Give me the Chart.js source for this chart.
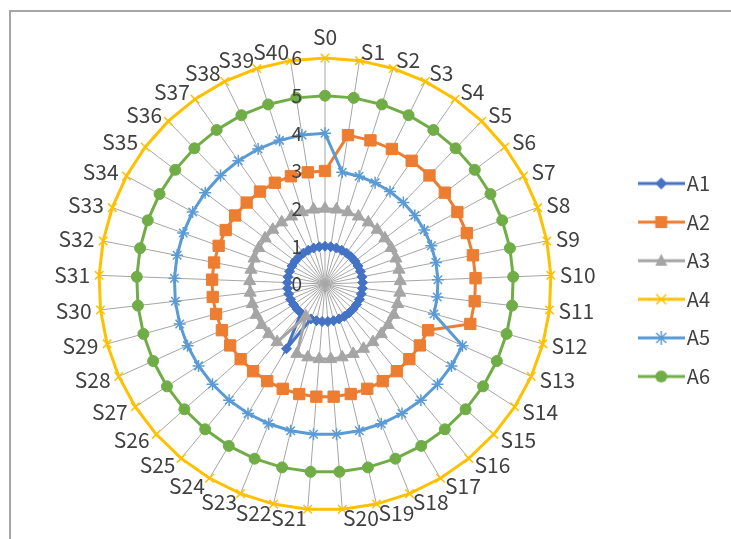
<!DOCTYPE html>
<html>
<head>
<meta charset="utf-8">
<script src="https://cdn.jsdelivr.net/npm/chart.js@4.4.0/dist/chart.umd.min.js"></script>
<style>
body { margin: 0; background: #fff; }
#wrap { position: relative; width: 731px; height: 539px; overflow: hidden; }
#frame { position: absolute; left: 9px; top: 10px; width: 760px; height: 560px; border: 2px solid #a6a6a6; box-sizing: border-box; }
#myChart { position: absolute; left: 0; top: 0; }
</style>
</head>
<body>
<div id="wrap">
  <div id="frame"></div>
  <canvas id="myChart" width="731" height="539"></canvas>
</div>
<script>
var categories = ['S0','S1','S2','S3','S4','S5','S6','S7','S8','S9','S10','S11','S12','S13','S14','S15','S16','S17','S18','S19','S20',
                  'S21','S22','S23','S24','S25','S26','S27','S28','S29','S30','S31','S32','S33','S34','S35','S36','S37','S38','S39','S40'];

var a1 = [1,1,1,1,1,1,1,1,1,1, 1,1,1,1,1,1,1,1,1,1, 1,1,1,1,2,1,1,1,1,1, 1,1,1,1,1,1,1,1,1,1, 1];
var a2 = [3,4,4,4,4,4,4,4,4,4, 4,4,4,3,3,3,3,3,3,3, 3,3,3,3,3,3,3,3,3,3, 3,3,3,3,3,3,3,3,3,3, 3];
var a3 = [2,2,2,2,2,2,2,2,2,2, 2,2,2,2,2,2,2,2,2,2, 2,2,2,2,1,2,2,2,2,2, 2,2,2,2,2,2,2,2,2,2, 2];
var a4 = [6,6,6,6,6,6,6,6,6,6, 6,6,6,6,6,6,6,6,6,6, 6,6,6,6,6,6,6,6,6,6, 6,6,6,6,6,6,6,6,6,6, 6];
var a5 = [4,3,3,3,3,3,3,3,3,3, 3,3,3,4,4,4,4,4,4,4, 4,4,4,4,4,4,4,4,4,4, 4,4,4,4,4,4,4,4,4,4, 4];
var a6 = [5,5,5,5,5,5,5,5,5,5, 5,5,5,5,5,5,5,5,5,5, 5,5,5,5,5,5,5,5,5,5, 5,5,5,5,5,5,5,5,5,5, 5];

var seriesNames = ['A1','A2','A3','A4','A5','A6'];
var tickLabels = ['0','1','2','3','4','5','6'];

var colors = ['#4472C4','#ED7D31','#A5A5A5','#FFC000','#5B9BD5','#70AD47'];
var styles = ['rectRot','rect','triangle','crossRot','star','circle'];
var radii = [5, 8, 7, 6, 6, 5.5];

var textColor = '#404040';
var fontName = '"Noto Sans CJK SC", "DejaVu Sans", sans-serif';

// small legend picture: line with the marker in the middle
function legendIcon(color, style) {
    var c = document.createElement('canvas');
    c.width = 47; c.height = 16;
    var g = c.getContext('2d');
    g.strokeStyle = color;
    g.fillStyle = color;
    g.lineWidth = 3;
    g.beginPath(); g.moveTo(0, 8); g.lineTo(47, 8); g.stroke();
    g.lineWidth = 1.5;
    var x = 23.5, y = 8;
    g.beginPath();
    if (style == 'rectRot') {
        g.moveTo(x, y - 6); g.lineTo(x + 6, y); g.lineTo(x, y + 6); g.lineTo(x - 6, y); g.closePath(); g.fill();
    } else if (style == 'rect') {
        g.fillRect(x - 6, y - 6, 12, 12);
    } else if (style == 'triangle') {
        g.moveTo(x, y - 7); g.lineTo(x + 6, y + 5); g.lineTo(x - 6, y + 5); g.closePath(); g.fill();
    } else if (style == 'crossRot') {
        g.moveTo(x - 5, y - 5); g.lineTo(x + 5, y + 5); g.moveTo(x + 5, y - 5); g.lineTo(x - 5, y + 5); g.stroke();
    } else if (style == 'star') {
        g.moveTo(x - 5, y - 5); g.lineTo(x + 5, y + 5); g.moveTo(x + 5, y - 5); g.lineTo(x - 5, y + 5);
        g.moveTo(x, y - 7); g.lineTo(x, y + 7); g.stroke();
    } else {
        g.arc(x, y, 6, 0, Math.PI * 2); g.fill();
    }
    return c;
}

var icons = colors.map(function (c, i) { return legendIcon(c, styles[i]); });

// value labels left of the S0 spoke, category labels round the outside (Excel style)
var radarText = {
    id: 'radarText',
    afterLayout: function (chart) {
        // legend sits a little higher than the plot centre
        chart.legend.top -= 4;
        chart.legend.bottom -= 4;
    },
    afterDatasetsDraw: function (chart) {
        var r = chart.scales.r;
        var ctx = chart.ctx;
        ctx.save();
        ctx.fillStyle = textColor;
        ctx.font = '19px ' + fontName;
        ctx.textAlign = 'right';
        ctx.textBaseline = 'middle';
        tickLabels.forEach(function (t) {
            ctx.fillText(t, r.xCenter - 23, r.yCenter - r.getDistanceFromCenterForValue(Number(t)));
        });

        ctx.font = '21px ' + fontName;
        categories.forEach(function (lab, i) {
            var a = r.getIndexAngle(i);
            var s = Math.sin(a), c = Math.cos(a);
            var p = r.getPointPosition(i, r.drawingArea);
            var x = p.x + 9 * s;
            var y = p.y - 9 * c;
            if (Math.abs(s) < 0.01) {
                ctx.textAlign = 'center';
                y -= 12;
            } else {
                ctx.textAlign = s > 0 ? 'left' : 'right';
            }
            ctx.fillText(lab, x, y);
        });
        ctx.restore();
    }
};

var seriesData = [a1, a2, a3, a4, a5, a6];
var datasets = seriesData.map(function (d, i) {
    return {
        label: seriesNames[i],
        data: d,
        borderColor: colors[i],
        backgroundColor: colors[i],
        pointBackgroundColor: colors[i],
        pointBorderColor: colors[i],
        pointStyle: styles[i],
        pointRadius: radii[i],
        pointBorderWidth: (styles[i] == 'crossRot' || styles[i] == 'star') ? 1.5 : 1,
        borderWidth: 3,
        fill: false,
        tension: 0,
        order: 6 - i
    };
});

var myChart = new Chart(document.getElementById('myChart'), {
    type: 'radar',
    data: { labels: categories, datasets: datasets },
    plugins: [radarText],
    options: {
        responsive: false,
        animation: false,
        layout: { padding: { left: 24.5, right: 11, top: 58, bottom: 29 } },
        scales: {
            r: {
                min: 0,
                max: 6,
                ticks: { display: false, stepSize: 1 },
                grid: { display: false },
                angleLines: { display: true, color: '#a6a6a6', lineWidth: 1 },
                pointLabels: { display: false }
            }
        },
        plugins: {
            tooltip: { enabled: false },
            legend: {
                position: 'right',
                labels: {
                    usePointStyle: true,
                    pointStyleWidth: 31,
                    boxHeight: 16,
                    padding: 18.6,
                    color: textColor,
                    font: { family: fontName, size: 20 },
                    generateLabels: function (chart) {
                        return chart.data.datasets.map(function (ds, i) {
                            return {
                                text: ds.label,
                                pointStyle: icons[i],
                                datasetIndex: i,
                                hidden: false,
                                fontColor: textColor,
                                lineWidth: 0,
                                strokeStyle: 'rgba(0,0,0,0)',
                                fillStyle: 'rgba(0,0,0,0)'
                            };
                        });
                    }
                }
            }
        }
    }
});
</script>
</body>
</html>
